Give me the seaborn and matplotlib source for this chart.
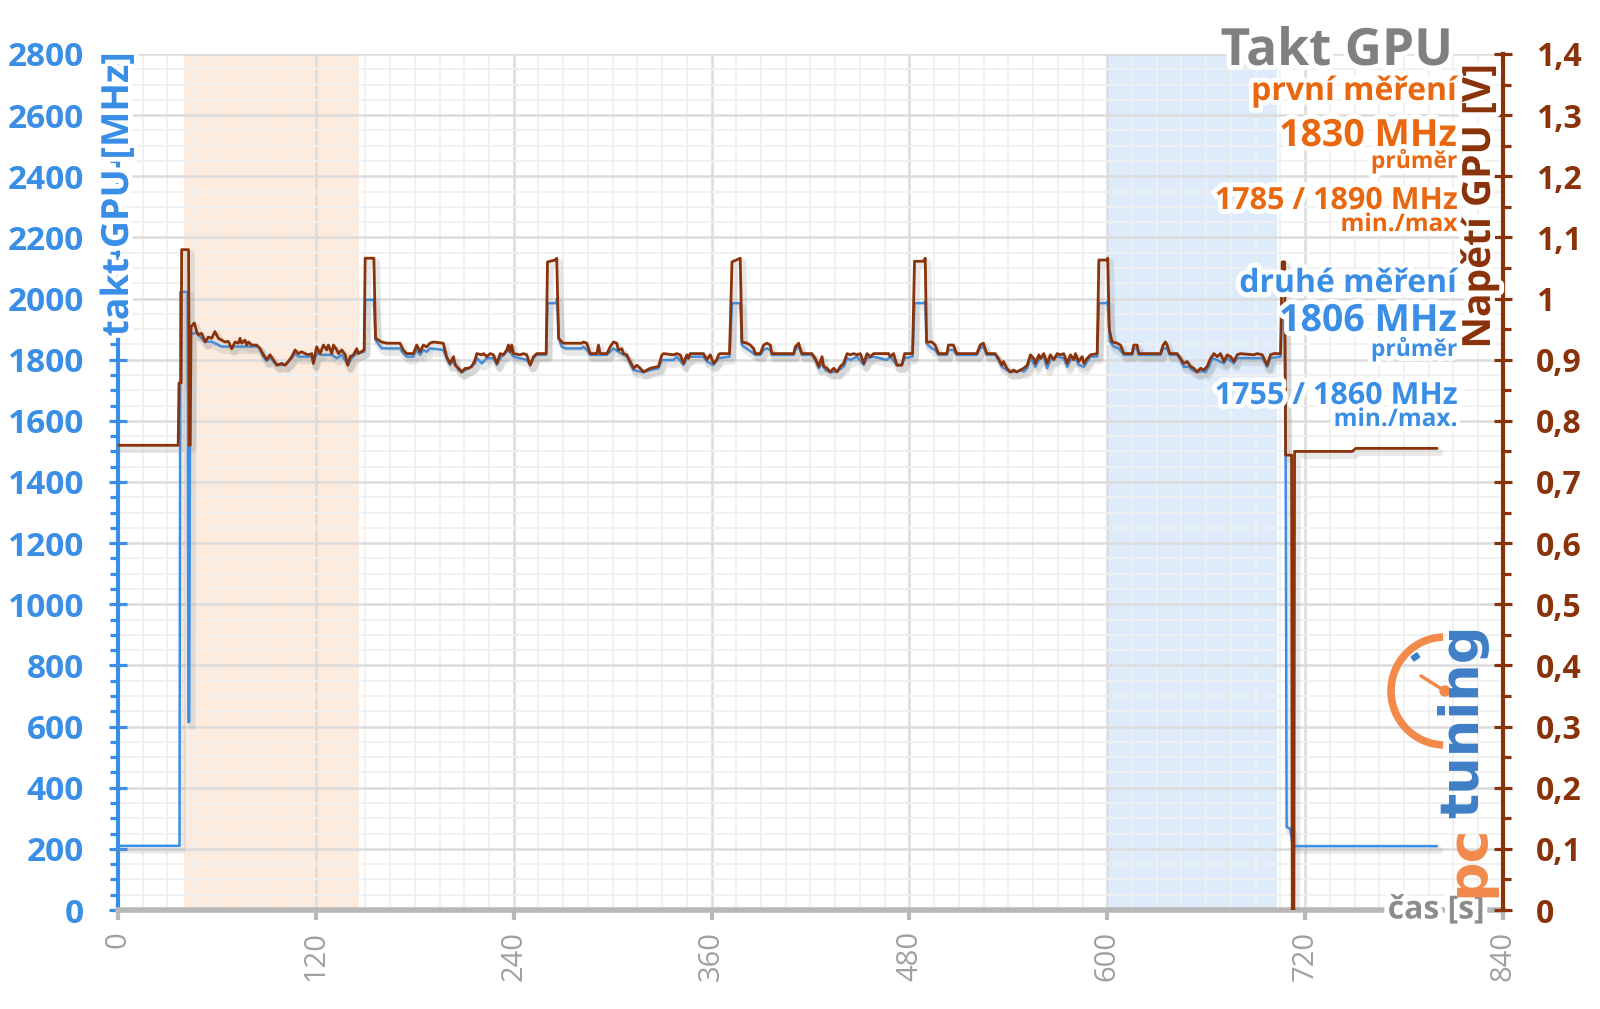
import numpy as np
import pandas as pd
import matplotlib
matplotlib.use("Agg")
import matplotlib.pyplot as plt
import matplotlib.patheffects as pe
from matplotlib.patches import Arc, Circle, Rectangle
from matplotlib.lines import Line2D
import seaborn as sns

# ---------------- data ----------------
time_ticks = [0, 120, 240, 360, 480, 600, 720, 840]
clock_ticks = [0, 200, 400, 600, 800, 1000, 1200, 1400, 1600, 1800, 2000, 2200, 2400, 2600, 2800]
volt_ticks = [0.0, 0.1, 0.2, 0.3, 0.4, 0.5, 0.6, 0.7, 0.8, 0.9, 1.0, 1.1, 1.2, 1.3, 1.4]
volt_tick_labels = ["0", "0,1", "0,2", "0,3", "0,4", "0,5", "0,6", "0,7", "0,8", "0,9",
                    "1", "1,1", "1,2", "1,3", "1,4"]

first_window = (40, 146)    # první měření
second_window = (600, 703)  # druhé měření

# GPU voltage [V] (time s, value)
voltage_points = [
    (0, 0.760), (36.5, 0.760), (37.0, 0.862), (38.3, 0.862), (38.6, 1.080), (42.8, 1.080),
    (43.3, 0.760), (43.8, 0.760), (44.3, 0.954), (46.3, 0.960), (47.7, 0.946), (48.7, 0.941),
    (50.8, 0.943), (52.8, 0.929), (54.8, 0.937), (56.8, 0.935), (58.8, 0.946), (60.9, 0.935),
    (62.9, 0.932), (64.9, 0.929), (66.9, 0.930), (69.0, 0.918), (71.0, 0.929), (73.0, 0.927),
    (74.0, 0.935), (75.0, 0.927), (77.0, 0.932), (78.0, 0.924), (79.1, 0.929), (81.1, 0.924),
    (84.1, 0.924), (86.2, 0.918), (88.2, 0.908), (90.2, 0.900), (92.2, 0.908), (94.2, 0.900),
    (96.3, 0.891), (99.3, 0.894), (101.3, 0.891), (103.3, 0.897), (105.4, 0.905), (107.4, 0.916),
    (109.4, 0.910), (111.4, 0.913), (113.5, 0.910), (115.5, 0.908), (117.5, 0.910), (118.5, 0.894),
    (120.5, 0.921), (122.6, 0.910), (124.6, 0.924), (126.6, 0.916), (127.6, 0.924), (129.7, 0.910),
    (130.7, 0.924), (132.7, 0.916), (133.7, 0.910), (135.7, 0.916), (137.8, 0.908), (139.4, 0.891),
    (140.8, 0.905), (142.8, 0.908), (144.8, 0.918), (145.8, 0.910), (149.3, 0.916), (149.9, 1.066),
    (155.2, 1.066), (156.2, 0.935), (159.9, 0.929), (163.0, 0.927), (171.0, 0.927), (173.0, 0.916),
    (175.1, 0.910), (179.1, 0.910), (181.2, 0.924), (183.2, 0.913), (185.2, 0.924), (187.2, 0.921),
    (189.2, 0.927), (191.3, 0.929), (197.3, 0.927), (199.3, 0.905), (201.4, 0.894), (203.5, 0.905),
    (204.5, 0.891), (206.5, 0.886), (208.5, 0.880), (210.6, 0.886), (212.6, 0.886), (214.6, 0.889),
    (216.6, 0.900), (217.6, 0.910), (220.7, 0.908), (221.7, 0.910), (223.7, 0.905), (225.7, 0.910),
    (227.7, 0.908), (229.8, 0.894), (231.8, 0.910), (233.8, 0.908), (235.8, 0.916), (236.8, 0.924),
    (237.8, 0.913), (238.8, 0.924), (239.9, 0.910), (243.9, 0.908), (245.9, 0.910), (247.9, 0.908),
    (250.0, 0.891), (252.0, 0.905), (254.0, 0.910), (259.7, 0.910), (260.5, 1.060), (265.1, 1.063),
    (266.1, 1.066), (267.2, 0.935), (269.2, 0.929), (270.2, 0.927), (281.3, 0.927), (282.3, 0.929),
    (284.3, 0.927), (285.4, 0.918), (286.4, 0.910), (290.4, 0.910), (291.4, 0.924), (292.4, 0.910),
    (296.5, 0.910), (298.5, 0.921), (300.5, 0.929), (302.5, 0.927), (303.5, 0.916), (305.6, 0.918),
    (306.6, 0.910), (308.6, 0.908), (310.6, 0.897), (312.7, 0.886), (314.7, 0.891), (316.7, 0.886),
    (318.7, 0.880), (320.8, 0.883), (322.8, 0.886), (327.8, 0.889), (329.9, 0.908), (330.9, 0.910),
    (336.9, 0.908), (338.9, 0.910), (341.0, 0.908), (343.0, 0.894), (345.0, 0.908), (346.0, 0.902),
    (347.0, 0.910), (355.1, 0.910), (357.2, 0.900), (359.2, 0.908), (361.2, 0.894), (363.2, 0.900),
    (364.2, 0.908), (365.2, 0.910), (370.9, 0.910), (372.4, 1.060), (377.4, 1.066), (378.4, 0.929),
    (381.5, 0.927), (383.5, 0.924), (385.5, 0.918), (386.5, 0.910), (389.6, 0.910), (391.6, 0.924),
    (393.6, 0.927), (395.6, 0.924), (396.6, 0.910), (409.8, 0.910), (410.8, 0.921), (412.8, 0.927),
    (413.8, 0.918), (414.8, 0.910), (420.9, 0.910), (422.9, 0.902), (425.0, 0.889), (426.0, 0.897),
    (427.0, 0.905), (428.0, 0.889), (430.0, 0.886), (432.0, 0.880), (434.1, 0.886), (436.1, 0.880),
    (438.1, 0.889), (440.1, 0.894), (442.2, 0.910), (444.2, 0.908), (446.2, 0.910), (448.2, 0.908),
    (450.2, 0.910), (452.3, 0.894), (454.3, 0.910), (456.3, 0.905), (458.3, 0.910), (467.4, 0.910),
    (468.4, 0.905), (470.4, 0.910), (472.4, 0.891), (475.4, 0.891), (477.1, 0.910), (481.9, 0.910),
    (483.1, 1.061), (488.5, 1.061), (489.6, 1.066), (490.4, 0.929), (493.6, 0.929), (495.6, 0.924),
    (497.6, 0.910), (502.7, 0.910), (503.7, 0.924), (506.7, 0.924), (508.7, 0.910), (520.9, 0.910),
    (522.9, 0.924), (524.9, 0.927), (526.9, 0.910), (532.0, 0.910), (534.0, 0.902), (536.1, 0.891),
    (537.1, 0.897), (539.1, 0.886), (541.1, 0.880), (543.2, 0.883), (545.2, 0.880), (547.2, 0.883),
    (549.4, 0.886), (551.4, 0.891), (553.4, 0.908), (555.4, 0.902), (556.4, 0.894), (558.5, 0.908),
    (559.5, 0.902), (561.5, 0.910), (563.5, 0.894), (565.5, 0.908), (567.6, 0.900), (569.6, 0.910),
    (571.6, 0.908), (573.6, 0.910), (575.7, 0.894), (577.7, 0.908), (579.7, 0.900), (580.7, 0.910),
    (582.7, 0.897), (584.8, 0.905), (585.8, 0.894), (587.8, 0.902), (589.8, 0.908), (593.9, 0.910),
    (594.9, 1.063), (599.5, 1.063), (600.3, 1.066), (601.2, 0.950), (602.4, 0.935), (603.0, 0.929),
    (606.0, 0.927), (608.0, 0.924), (610.1, 0.910), (615.1, 0.910), (616.1, 0.924), (618.1, 0.924),
    (619.1, 0.910), (632.3, 0.910), (633.9, 0.924), (635.3, 0.929), (636.3, 0.924), (637.9, 0.910),
    (642.4, 0.910), (644.4, 0.902), (646.4, 0.894), (648.5, 0.897), (650.5, 0.889), (652.5, 0.886),
    (654.5, 0.880), (656.6, 0.886), (658.6, 0.883), (660.6, 0.889), (662.6, 0.902), (664.7, 0.910),
    (666.7, 0.905), (668.7, 0.910), (670.7, 0.897), (672.8, 0.908), (674.8, 0.905), (676.8, 0.897),
    (678.8, 0.908), (680.8, 0.910), (688.9, 0.908), (690.9, 0.910), (694.0, 0.908), (697.0, 0.891),
    (699.0, 0.908), (701.0, 0.910), (705.1, 0.910), (706.1, 1.060), (707.6, 1.060), (708.2, 0.744),
    (711.8, 0.744), (712.2, 0.000), (713.2, 0.000), (713.6, 0.750), (748.6, 0.750), (750.7, 0.755),
    (800.0, 0.755),
]

# GPU clock [MHz] (time s, value)
clock_points = [
    (0, 210), (37.3, 210), (37.8, 2022), (42.2, 2022), (42.7, 615), (43.2, 615), (43.8, 1885),
    (47.7, 1887), (48.7, 1881), (52.8, 1859), (56.8, 1859), (60.9, 1848), (62.9, 1843), (85.2, 1843),
    (88.2, 1810), (90.2, 1796), (92.2, 1807), (94.2, 1794), (96.3, 1783), (101.3, 1783), (105.4, 1805),
    (107.4, 1821), (109.4, 1810), (117.5, 1810), (118.5, 1788), (120.5, 1821), (123.6, 1816),
    (129.7, 1816), (132.7, 1805), (135.7, 1816), (139.4, 1783), (141.8, 1805), (144.8, 1821),
    (149.3, 1826), (149.9, 1996), (155.2, 1996), (156.2, 1865), (159.9, 1837), (171.0, 1837),
    (173.0, 1821), (175.1, 1810), (179.1, 1810), (181.2, 1832), (183.2, 1816), (185.2, 1832),
    (187.2, 1826), (189.2, 1837), (197.3, 1832), (199.3, 1805), (201.4, 1783), (203.5, 1799),
    (206.5, 1766), (208.5, 1759), (212.6, 1772), (216.6, 1788), (217.6, 1805), (220.7, 1788),
    (223.7, 1805), (227.7, 1805), (229.8, 1783), (231.8, 1805), (236.8, 1832), (239.9, 1810),
    (247.9, 1799), (250.0, 1783), (252.0, 1805), (254.0, 1816), (259.7, 1816), (260.5, 1985),
    (265.7, 1985), (266.3, 2001), (267.4, 1870), (269.2, 1843), (271.2, 1837), (281.3, 1837),
    (282.3, 1843), (284.3, 1832), (286.4, 1816), (296.5, 1816), (298.5, 1826), (300.5, 1837),
    (303.5, 1826), (306.6, 1816), (308.6, 1810), (310.6, 1788), (312.7, 1766), (318.7, 1759),
    (322.8, 1766), (327.8, 1772), (329.9, 1799), (336.9, 1799), (338.9, 1810), (343.0, 1783),
    (345.0, 1805), (347.0, 1810), (355.1, 1810), (357.2, 1794), (361.2, 1783), (364.2, 1805),
    (370.9, 1810), (372.4, 1985), (377.4, 1985), (378.4, 1848), (382.5, 1832), (386.5, 1816),
    (389.6, 1816), (391.6, 1832), (393.6, 1837), (395.6, 1832), (396.6, 1816), (409.8, 1816),
    (410.8, 1832), (412.8, 1843), (414.8, 1816), (420.9, 1816), (423.9, 1788), (425.0, 1772),
    (427.0, 1788), (429.0, 1766), (432.0, 1759), (436.1, 1761), (440.1, 1777), (442.2, 1805),
    (444.2, 1799), (448.2, 1810), (452.3, 1783), (454.3, 1805), (458.3, 1810), (466.3, 1799),
    (468.4, 1810), (472.4, 1783), (475.4, 1783), (477.1, 1805), (481.9, 1810), (483.1, 1985),
    (488.5, 1985), (489.6, 1990), (490.4, 1853), (493.6, 1837), (495.6, 1832), (497.6, 1816),
    (502.7, 1816), (503.7, 1832), (506.7, 1832), (508.7, 1816), (520.9, 1816), (522.9, 1837),
    (524.9, 1843), (526.9, 1816), (532.0, 1816), (534.0, 1799), (536.1, 1777), (539.1, 1766),
    (541.1, 1759), (545.2, 1761), (547.2, 1766), (549.4, 1761), (551.4, 1772), (553.4, 1805),
    (556.4, 1777), (558.5, 1799), (561.5, 1810), (563.5, 1772), (565.5, 1799), (569.6, 1810),
    (573.6, 1805), (575.7, 1777), (577.7, 1799), (580.7, 1805), (582.7, 1783), (585.8, 1777),
    (587.8, 1794), (589.8, 1810), (593.9, 1810), (594.9, 1985), (599.5, 1985), (600.3, 1990),
    (601.6, 1860), (604.0, 1843), (607.0, 1837), (610.1, 1816), (615.1, 1816), (616.1, 1837),
    (618.1, 1837), (619.1, 1816), (632.3, 1816), (633.9, 1837), (636.3, 1837), (637.9, 1816),
    (642.4, 1816), (644.4, 1799), (646.4, 1777), (649.5, 1777), (651.5, 1766), (654.5, 1759),
    (657.6, 1763), (659.6, 1759), (661.6, 1777), (663.7, 1805), (666.7, 1799), (670.7, 1788),
    (672.8, 1805), (676.8, 1788), (678.8, 1805), (694.0, 1805), (697.0, 1777), (699.0, 1805),
    (705.1, 1810), (706.1, 1985), (707.5, 1985), (708.2, 1480), (708.8, 272), (711.0, 265),
    (712.5, 209), (800.0, 209),
]

# ---------------- style ----------------
BLUE = "#3a8ee6"
ORANGE = "#e8670f"
BROWN = "#8a330a"
GRAY = "#8c8c8c"

sns.set_theme(style="white")
plt.rcParams["font.family"] = ["Open Sans", "DejaVu Sans"]

glow = [pe.withStroke(linewidth=7, foreground="white")]

fig = plt.figure(figsize=(16, 10.09), dpi=100)
fig.patch.set_facecolor("white")
ax = fig.add_axes([0.07375, 0.0981, 0.8656, 0.8484])
ax2 = ax.twinx()

vdf = pd.DataFrame(voltage_points, columns=["t", "v"])
cdf = pd.DataFrame(clock_points, columns=["t", "mhz"])

# bands
ax.axvspan(*first_window, color="#fdebdd", zorder=0, lw=0)
ax.axvspan(*second_window, color="#ddebfb", zorder=0, lw=0)

shadow = [pe.SimpleLineShadow(offset=(2, -3), shadow_color="#888888", alpha=0.18, linewidth=5), pe.Normal()]
sns.lineplot(data=cdf, x="t", y="mhz", ax=ax, color=BLUE, lw=1.8, estimator=None, sort=False,
             path_effects=shadow, zorder=3)
sns.lineplot(data=vdf, x="t", y="v", ax=ax2, color=BROWN, lw=2.0, estimator=None, sort=False,
             path_effects=shadow, zorder=3)

ax.set_xlim(0, 840)
ax.set_ylim(0, 2800)
ax2.set_ylim(0, 1.4)
ax.set_xlabel("")
ax.set_ylabel("")
ax2.set_ylabel("")

# grid
ax.set_xticks(time_ticks)
ax.set_xticks(np.arange(0, 841, 15), minor=True)
ax.set_yticks(clock_ticks)
ax.set_yticks(np.arange(0, 2801, 50), minor=True)
ax.set_axisbelow(True)
ax.grid(which="major", color="#dcdcdc", lw=1.8, zorder=0.5)
ax.grid(which="minor", color="#f0f0f0", lw=1.3, zorder=0.4)

ax2.set_yticks(volt_ticks)
ax2.set_yticklabels(volt_tick_labels)
ax2.set_yticks(np.arange(0, 1.401, 0.05), minor=True)
ax2.grid(False)

# spines
for s in ["top", "right"]:
    ax.spines[s].set_visible(False)
ax.spines["left"].set_color(BLUE)
ax.spines["left"].set_linewidth(3)
ax.spines["bottom"].set_color("#b8b8b8")
ax.spines["bottom"].set_linewidth(4)
for s in ["top", "left", "bottom"]:
    ax2.spines[s].set_visible(False)
ax2.spines["right"].set_color(BROWN)
ax2.spines["right"].set_linewidth(3)

# ticks
ax.tick_params(axis="y", which="major", direction="inout", length=13, width=2.3, color=BLUE,
               labelcolor=BLUE, labelsize=24, pad=18, left=True)
ax.tick_params(axis="y", which="minor", direction="out", length=6, width=2.3, color=BLUE, left=True)
ax.tick_params(axis="x", which="major", direction="out", length=7, width=3, color="#b8b8b8",
               labelcolor="#a0a0a0", labelsize=21, pad=8, labelrotation=90, bottom=True)
ax.tick_params(axis="x", which="minor", length=0)
for lab in ax.get_yticklabels():
    lab.set_fontweight("bold")

ax2.tick_params(axis="y", which="major", direction="inout", length=13, width=2.3, color=BROWN,
                labelcolor=BROWN, labelsize=23, pad=17, right=True)
ax2.tick_params(axis="y", which="minor", direction="out", length=6, width=2.3, color=BROWN, right=True)
for lab in ax2.get_yticklabels():
    lab.set_fontweight("bold")

# axis titles on spines
ax.text(0.0, 0.836, "takt GPU [MHz]", transform=ax.transAxes, rotation=90, ha="center", va="center",
        color=BLUE, fontsize=27, fontweight="bold", path_effects=glow, zorder=10)
ax2.text(0.983, 0.822, "Napětí GPU [V]", transform=ax2.transAxes, rotation=90, ha="center", va="center",
         color=BROWN, fontsize=28, fontweight="bold", path_effects=glow, zorder=10)
ax2.text(0.987, 0.0, "čas [s]", transform=ax2.transAxes, ha="right", va="center",
         color=GRAY, fontsize=23, fontweight="bold", path_effects=glow, zorder=10)

# title + stats
XR = 1457 / 1600
def ftxt(y_px, s, color, size, x=XR):
    fig.text(x, 1 - y_px / 1009, s, ha="right", va="baseline", color=color, fontsize=size,
             fontweight="bold", path_effects=glow, zorder=20)

ftxt(65, "Takt GPU", "#808080", 37, x=1453 / 1600)
ftxt(100, "první měření", ORANGE, 23)
ftxt(146, "1830 MHz", ORANGE, 27)
ftxt(168, "průměr", ORANGE, 16.5)
ftxt(209, "1785 / 1890 MHz", ORANGE, 22)
ftxt(231, "min./max", ORANGE, 17.5)
ftxt(292, "druhé měření", BLUE, 23)
ftxt(331, "1806 MHz", BLUE, 27)
ftxt(356, "průměr", BLUE, 16.5)
ftxt(404, "1755 / 1860 MHz", BLUE, 22)
ftxt(426, "min./max.", BLUE, 17.5)

# pctuning logo
fig.text(1463 / 1600, 1 - 818 / 1009, "tuning", rotation=90, ha="center", va="bottom",
         color="#3f7fc6", fontsize=38, fontweight="bold", zorder=15,
         family=["DejaVu Sans"])
fig.text(1468 / 1600, 1 - 897 / 1009, "pc", rotation=90, ha="center", va="bottom",
         color="#f28a4c", fontsize=40, fontweight="bold", zorder=15,
         family=["DejaVu Sans"])
tr = fig.dpi_scale_trans
cx, cy = 14.45, (1009 - 691) / 100
fig.add_artist(Arc((cx, cy), 1.08, 1.08, theta1=92, theta2=268, transform=tr,
                   color="#f28a4c", lw=5.5, zorder=14))
fig.add_artist(Line2D([cx, cx - 0.24], [cy, cy + 0.15], transform=tr, color="#f28a4c", lw=2.5, zorder=14))
fig.add_artist(Circle((cx, cy), 0.05, transform=tr, color="#f28a4c", zorder=14))
fig.add_artist(Rectangle((cx - 0.31, cy + 0.30), 0.07, 0.05, angle=35, transform=tr,
                         color="#3f7fc6", zorder=14))

fig.savefig("out.png", dpi=100, facecolor="white")
